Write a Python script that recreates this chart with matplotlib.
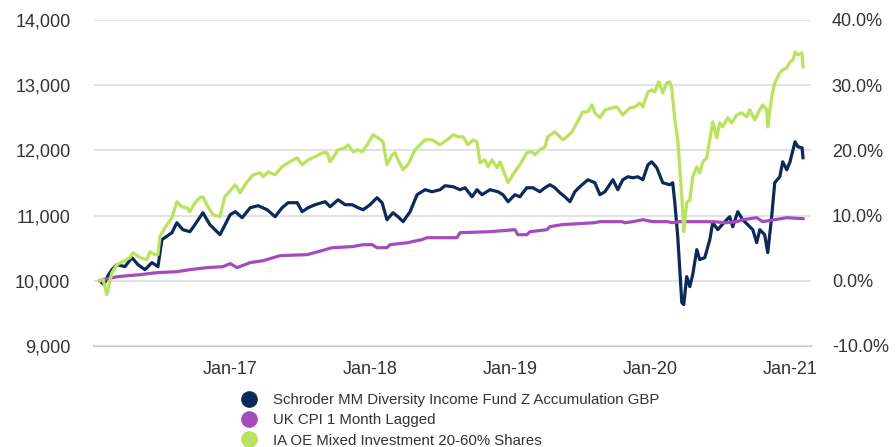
import matplotlib
matplotlib.use("Agg")
import matplotlib.pyplot as plt
from matplotlib.lines import Line2D
import pandas as pd
import numpy as np

# ---- data (dates as decimal years, values = growth of 10,000) ----
fund_t = [2016.071, 2016.100, 2016.129, 2016.157, 2016.193, 2016.250, 2016.300, 2016.343, 2016.393,
          2016.443, 2016.486, 2016.514, 2016.586, 2016.621, 2016.664, 2016.714, 2016.750, 2016.807,
          2016.857, 2016.893, 2016.929, 2017.000, 2017.036, 2017.086, 2017.143, 2017.200, 2017.264,
          2017.321, 2017.371, 2017.414, 2017.479, 2017.514, 2017.557, 2017.607, 2017.679, 2017.714,
          2017.771, 2017.821, 2017.871, 2017.914, 2017.950, 2018.000, 2018.050, 2018.086, 2018.121,
          2018.164, 2018.200, 2018.236, 2018.286, 2018.336, 2018.393, 2018.443, 2018.500, 2018.536,
          2018.593, 2018.643, 2018.679, 2018.729, 2018.764, 2018.800, 2018.857, 2018.914, 2018.950,
          2018.986, 2019.036, 2019.071, 2019.121, 2019.164, 2019.214, 2019.250, 2019.286, 2019.321,
          2019.357, 2019.393, 2019.429, 2019.464, 2019.500, 2019.557, 2019.607, 2019.643, 2019.679,
          2019.736, 2019.771, 2019.807, 2019.843, 2019.879, 2019.914, 2019.950, 2019.986, 2020.014,
          2020.050, 2020.093, 2020.143, 2020.164, 2020.179, 2020.200, 2020.229, 2020.243, 2020.264,
          2020.286, 2020.307, 2020.336, 2020.357, 2020.393, 2020.429, 2020.450, 2020.486, 2020.536,
          2020.571, 2020.593, 2020.629, 2020.664, 2020.700, 2020.736, 2020.764, 2020.786, 2020.821,
          2020.843, 2020.871, 2020.893, 2020.929, 2020.950, 2020.979, 2021.000, 2021.036, 2021.057,
          2021.086, 2021.093]
fund_v = [10000, 9942, 10080, 10171, 10248, 10217, 10355, 10248, 10171,
          10279, 10217, 10631, 10738, 10891, 10784, 10753, 10861, 11044,
          10861, 10784, 10707, 11014, 11060, 10968, 11121, 11152, 11090,
          10983, 11121, 11198, 11198, 11060, 11121, 11167, 11213, 11136,
          11243, 11167, 11167, 11121, 11090, 11167, 11274, 11198, 10937,
          11044, 10983, 10907, 11060, 11320, 11397, 11366, 11397, 11458,
          11443, 11397, 11427, 11289, 11397, 11320, 11397, 11366, 11320,
          11213, 11320, 11289, 11427, 11427, 11366, 11427, 11473, 11427,
          11351, 11289, 11213, 11366, 11443, 11550, 11504, 11320, 11366,
          11550, 11397, 11550, 11596, 11580, 11596, 11550, 11779, 11825,
          11734, 11504, 11473, 11504, 11198, 10677, 9666, 9636, 10064,
          9911, 10095, 10478, 10325, 10355, 10631, 10891, 10784, 10907,
          10983, 10830, 11060, 10937, 10861, 10784, 10585, 10784, 10707,
          10432, 10983, 11504, 11596, 11825, 11703, 11825, 12132, 12055,
          12040, 11887]

cpi_t = [2016.071, 2016.093, 2016.200, 2016.357, 2016.479, 2016.621, 2016.714, 2016.836, 2016.950,
         2017.000, 2017.050, 2017.143, 2017.236, 2017.357, 2017.550, 2017.629, 2017.729, 2017.871,
         2017.950, 2018.014, 2018.050, 2018.121, 2018.143, 2018.271, 2018.300, 2018.371, 2018.407,
         2018.621, 2018.643, 2018.857, 2019.036, 2019.057, 2019.121, 2019.143, 2019.264, 2019.286,
         2019.371, 2019.607, 2019.643, 2019.800, 2019.821, 2019.879, 2019.950, 2020.021, 2020.129,
         2020.157, 2020.214, 2020.450, 2020.550, 2020.621, 2020.664, 2020.764, 2020.807, 2020.979,
         2021.093]
cpi_v = [10000, 10018, 10064, 10094, 10125, 10140, 10171, 10202, 10217,
         10263, 10202, 10279, 10309, 10386, 10401, 10447, 10508, 10524,
         10554, 10554, 10508, 10508, 10554, 10585, 10600, 10631, 10661,
         10661, 10738, 10753, 10784, 10707, 10707, 10753, 10784, 10830,
         10861, 10891, 10907, 10907, 10891, 10907, 10937, 10907, 10907,
         10891, 10907, 10907, 10891, 10907, 10937, 10968, 10907, 10968,
         10953]

sector_t = [2016.071, 2016.093, 2016.121, 2016.157, 2016.193, 2016.236, 2016.286, 2016.307, 2016.357,
            2016.407, 2016.429, 2016.464, 2016.486, 2016.500, 2016.536, 2016.586, 2016.621, 2016.657,
            2016.693, 2016.714, 2016.750, 2016.786, 2016.807, 2016.843, 2016.879, 2016.929, 2016.964,
            2017.036, 2017.071, 2017.121, 2017.164, 2017.214, 2017.236, 2017.271, 2017.321, 2017.371,
            2017.414, 2017.479, 2017.514, 2017.557, 2017.607, 2017.657, 2017.693, 2017.714, 2017.771,
            2017.821, 2017.843, 2017.879, 2017.914, 2017.943, 2017.979, 2018.021, 2018.057, 2018.093,
            2018.121, 2018.157, 2018.179, 2018.200, 2018.236, 2018.271, 2018.321, 2018.357, 2018.393,
            2018.443, 2018.500, 2018.550, 2018.593, 2018.629, 2018.664, 2018.700, 2018.736, 2018.764,
            2018.786, 2018.821, 2018.843, 2018.871, 2018.907, 2018.929, 2018.964, 2018.986, 2019.021,
            2019.071, 2019.121, 2019.157, 2019.179, 2019.214, 2019.250, 2019.271, 2019.321, 2019.357,
            2019.379, 2019.407, 2019.443, 2019.479, 2019.521, 2019.557, 2019.586, 2019.607, 2019.643,
            2019.679, 2019.729, 2019.764, 2019.807, 2019.857, 2019.893, 2019.929, 2019.950, 2019.986,
            2020.014, 2020.036, 2020.064, 2020.093, 2020.121, 2020.143, 2020.157, 2020.179, 2020.200,
            2020.229, 2020.243, 2020.264, 2020.286, 2020.307, 2020.336, 2020.357, 2020.379, 2020.407,
            2020.429, 2020.450, 2020.479, 2020.500, 2020.521, 2020.557, 2020.586, 2020.621, 2020.657,
            2020.693, 2020.714, 2020.750, 2020.786, 2020.807, 2020.836, 2020.843, 2020.871, 2020.893,
            2020.929, 2020.950, 2020.979, 2021.000, 2021.021, 2021.036, 2021.057, 2021.086, 2021.093]
sector_v = [10000, 10030, 9789, 10126, 10248, 10294, 10355, 10432, 10355,
            10325, 10447, 10401, 10401, 10677, 10815, 10968, 11213, 11136,
            11121, 11060, 11198, 11274, 11289, 11136, 11014, 10983, 11289,
            11473, 11351, 11519, 11626, 11657, 11596, 11672, 11626, 11749,
            11810, 11887, 11780, 11856, 11902, 11963, 11963, 11825, 12009,
            12040, 12086, 11979, 12009, 11979, 12086, 12239, 12193, 12132,
            11779, 11933, 11963, 11856, 11703, 11780, 12009, 12086, 12162,
            12162, 12086, 12162, 12239, 12208, 12208, 12086, 12162, 12132,
            11810, 11856, 11749, 11856, 11734, 11825, 11626, 11504, 11626,
            11780, 11963, 11979, 11933, 12009, 12055, 12208, 12285, 12208,
            12162, 12208, 12285, 12423, 12591, 12591, 12698, 12576, 12499,
            12622, 12652, 12667, 12545, 12652, 12667, 12729, 12667, 12897,
            12928, 12897, 13051, 12882, 13035, 13051, 12959, 12469, 12162,
            11289, 10753, 11198, 11244, 11596, 11749, 11657, 11825, 11887,
            12162, 12438, 12193, 12423, 12361, 12499, 12423, 12545, 12576,
            12515, 12622, 12469, 12622, 12698, 12622, 12361, 12821, 13035,
            13188, 13234, 13265, 13357, 13387, 13510, 13464, 13495, 13280]

labels = ["Schroder MM Diversity Income Fund Z Accumulation GBP",
          "UK CPI 1 Month Lagged",
          "IA OE Mixed Investment 20-60% Shares"]
colors = ["#0b2a5b", "#a54cbd", "#b9e45a"]
left_ticks = [9000, 10000, 11000, 12000, 13000, 14000]
right_ticks = [-10, 0, 10, 20, 30, 40]
x_tick_years = [2017, 2018, 2019, 2020, 2021]
x_tick_labels = ["Jan-17", "Jan-18", "Jan-19", "Jan-20", "Jan-21"]


def to_dates(years):
    out = []
    for y in years:
        yi = int(np.floor(y))
        start = pd.Timestamp(year=yi, month=1, day=1)
        out.append(start + pd.Timedelta(days=(y - yi) * 365.25))
    return out


plt.rcParams['font.family'] = ['Liberation Sans', 'DejaVu Sans']

fig = plt.figure(figsize=(8.96, 4.47), dpi=100)
ax = fig.add_axes([94 / 896, 1 - 346 / 447, (811 - 94) / 896, (346 - 20) / 447])

series = [(fund_t, fund_v), (cpi_t, cpi_v), (sector_t, sector_v)]
for i, ((t, v), c) in enumerate(zip(series, colors)):
    ax.plot(to_dates(t), v, color=c, lw=2.3, solid_joinstyle='round', zorder=3 + i)

ax.set_ylim(9000, 14000)
ax.set_yticks(left_ticks)
ax.set_yticklabels([f"{v:,}" for v in left_ticks])
xmin = to_dates([2016.029])[0]
xmax = to_dates([2021.150])[0]
ax.set_xlim(xmin, xmax)
ax.set_xticks(to_dates(x_tick_years))
ax.set_xticklabels(x_tick_labels)

ax.grid(axis='y', color='#e3e3e3', lw=1.4, zorder=0)
ax.grid(axis='x', visible=False)
for s in ['top', 'right', 'left']:
    ax.spines[s].set_visible(False)
ax.spines['bottom'].set_color('#cccccc')
ax.spines['bottom'].set_linewidth(1.6)
ax.spines['bottom'].set_zorder(1)
ax.tick_params(axis='both', length=0, labelsize=13, colors='#333333')
ax.tick_params(axis='y', pad=17)
ax.tick_params(axis='x', pad=11)

ax2 = ax.twinx()
ax2.set_ylim(-10, 40)
ax2.set_yticks(right_ticks)
ax2.set_yticklabels([f"{v:.1f}%" for v in right_ticks])
for s in ['top', 'right', 'left', 'bottom']:
    ax2.spines[s].set_visible(False)
ax2.tick_params(axis='y', length=0, labelsize=13, colors='#333333', pad=15)

handles = [Line2D([], [], marker='o', linestyle='none', markersize=11,
                  markerfacecolor=c, markeredgecolor=c) for c in colors]
fig.legend(handles, labels, loc='upper left', bbox_to_anchor=(241 / 896, 1 - 393 / 447),
           frameon=False, fontsize=10.8, labelcolor='#333333', borderpad=0,
           labelspacing=0.42, handlelength=1.0, handletextpad=1.1, borderaxespad=0)

fig.savefig("out.png", dpi=100)
